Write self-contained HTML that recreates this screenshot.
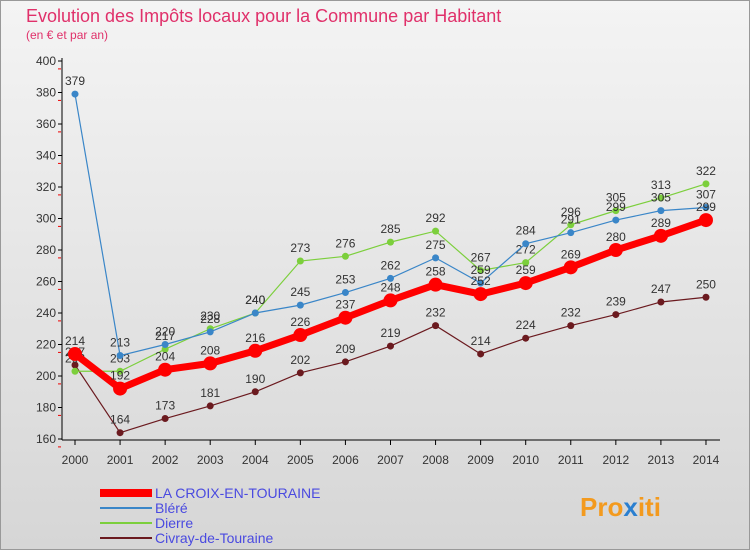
<!DOCTYPE html>
<html><head><meta charset="utf-8"><style>
body{margin:0;width:750px;height:550px;overflow:hidden;font-family:"Liberation Sans",sans-serif}
</style></head><body>
<svg width="750" height="550" style="position:absolute;left:0;top:0">
<defs><linearGradient id="bg" x1="0" y1="0" x2="0" y2="1"><stop offset="0" stop-color="#f4f4f4"/><stop offset="1" stop-color="#d6d6d6"/></linearGradient></defs>
<rect x="0.5" y="0.5" width="749" height="549" fill="url(#bg)" stroke="#999"/>
<text x="26" y="22" font-size="18" fill="#e0306a">Evolution des Impôts locaux pour la Commune par Habitant</text>
<text x="26" y="39" font-size="12" fill="#e0306a">(en € et par an)</text>
<g id="axes"></g><g id="series"></g><g id="legend"></g>
<text x="580" y="516" font-size="26" font-weight="bold" fill="#f39a1e">Pro<tspan fill="#2a7fd0">x</tspan>iti</text>
</svg>
<script>
const years=["2000","2001","2002","2003","2004","2005","2006","2007","2008","2009","2010","2011","2012","2013","2014"];
const yTicks=[160,180,200,220,240,260,280,300,320,340,360,380,400];
const croix=[214,192,204,208,216,226,237,248,258,252,259,269,280,289,299];
const blere=[379,213,220,228,240,245,253,262,275,259,284,291,299,305,307];
const dierre=[203,203,217,230,240,273,276,285,292,267,272,296,305,313,322];
const civray=[207,164,173,181,190,202,209,219,232,214,224,232,239,247,250];
const NS="http://www.w3.org/2000/svg";
const xS=i=>75+i*45.07, yS=v=>439-(v-160)*378/240;
function mk(tag,at,parent){const e=document.createElementNS(NS,tag);for(const k in at)e.setAttribute(k,at[k]);parent.appendChild(e);return e;}
const ax=document.getElementById('axes');
const yl=mk('line',{x1:62,y1:58,x2:62,y2:440,stroke:'#000'},ax);

const xl=mk('line',{x1:62,y1:440,x2:720,y2:440,stroke:'#000'},ax);

yTicks.forEach(v=>{const y=yS(v);
 mk('line',{x1:58,y1:y,x2:62,y2:y,stroke:'#000'},ax);
 mk('line',{x1:58,y1:y+7.9,x2:61,y2:y+7.9,stroke:'#e00'},ax);
 const t=mk('text',{x:56,y:y+4,'font-size':12,'text-anchor':'end',fill:'#333'},ax);t.textContent=v;
 });
years.forEach((yr,i)=>{const x=xS(i);mk('line',{x1:x,y1:440,x2:x,y2:445,stroke:'#000'},ax);
 const t=mk('text',{x:x,y:464,'font-size':12,'text-anchor':'middle',fill:'#333'},ax);t.textContent=yr;
 });
const sg=document.getElementById('series');
function draw(name,data,color,w,r){const g=mk('g',{},sg);
 
 mk('polyline',{points:data.map((v,i)=>xS(i)+','+yS(v)).join(' '),fill:'none',stroke:color,'stroke-width':w},g);
 data.forEach((v,i)=>{const c=mk('circle',{cx:xS(i),cy:yS(v),r:r,fill:color},g);
  
  const t=mk('text',{x:xS(i),y:yS(v)-9,'font-size':12,'text-anchor':'middle',fill:'#333'},g);t.textContent=v;});}
draw('series-civray',civray,'#6b1a1f',1.2,3.5);
draw('series-dierre',dierre,'#7ccf3c',1.2,3.5);
draw('series-blere',blere,'#3a86c8',1.2,3.5);
draw('series-croix',croix,'#ff0000',7,7);
const lg=document.getElementById('legend');
[["LA CROIX-EN-TOURAINE","#ff0000",8],["Bléré","#3a86c8",2],["Dierre","#7ccf3c",2],["Civray-de-Touraine","#6b1a1f",2]].forEach((e,i)=>{
 const y=493+i*15;const g=mk('g',{},lg);
 
 mk('line',{x1:100,y1:y,x2:152,y2:y,stroke:e[1],'stroke-width':e[2]},g);
 const t=mk('text',{x:155,y:y+5,'font-size':14,fill:'#4a4ae0'},g);t.textContent=e[0];});
</script>
</body></html>
